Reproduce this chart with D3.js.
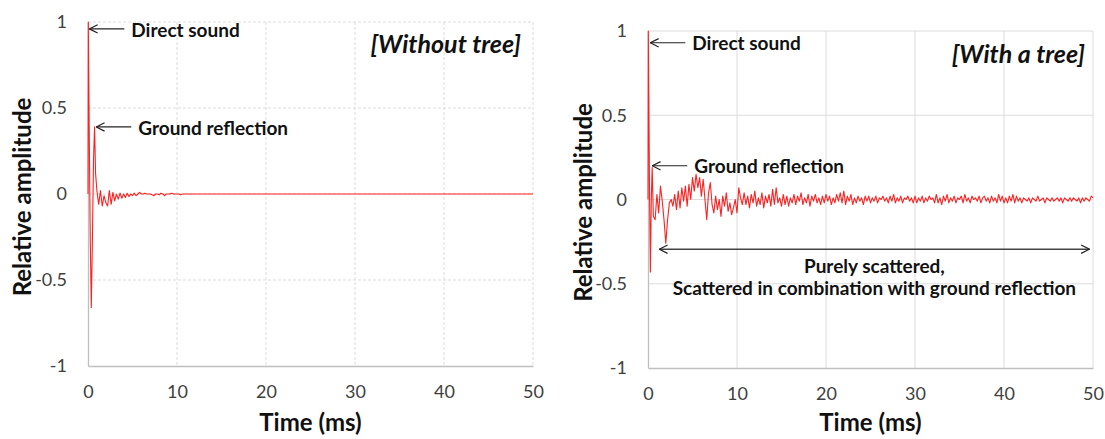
<!DOCTYPE html>
<html><head><meta charset="utf-8">
<script src="https://cdn.jsdelivr.net/npm/d3@7"></script>
<style>body{margin:0;background:#fff} svg{display:block}</style>
</head><body><svg id="c" width="1105" height="439"></svg>
<script>
// ---------- data ----------
const xTicks = [0, 10, 20, 30, 40, 50];
const yTicks = [-1, -0.5, 0, 0.5, 1];
const yTickLabels = ["-1", "-0.5", "0", "0.5", "1"];
const xTitle = "Time (ms)";
const yTitle = "Relative amplitude";
const panelTitles = ["[Without tree]", "[With a tree]"];

// Without tree: detailed early part (ms, amplitude)
const noTreeEarlyTimes = [0, 0.03, 0.08, 0.15, 0.25, 0.37, 0.5, 0.62, 0.74, 0.85];
const noTreeEarlyAmps  = [0, 1.0, 0.7, 0.3, -0.25, -0.66, -0.25, 0.2, 0.39, 0.12];
// Without tree: tail sampled every 0.2 ms from 1.0 ms
const noTreeTailStart = 1.0, noTreeTailStep = 0.2;
const noTreeTailAmps = [0.02,-0.06,0.02,-0.07,-0.01,-0.05,-0.07,0.02,-0.06,0.01,-0.04,0.0,-0.03,0.005,-0.025,0.0,-0.02,0.005,-0.015,0.0,-0.01,0.005,-0.01,0.0,0.01,0.0,
  0,0.005,0,0,0,-0.005,-0.01,0,0,-0.005,0.005,0,-0.01,0,0,0,0.005,0,0,0,0,-0.005,0,0,0];
const noTreeEndTime = 50, noTreeEndAmp = 0;

// With a tree: detailed early part
const treeEarlyTimes = [0, 0.03, 0.1, 0.18, 0.27, 0.37, 0.47];
const treeEarlyAmps  = [0, 1.0, 0.55, 0.0, -0.43, 0.0, 0.19];
// With a tree: tail sampled every 0.2 ms from 0.6 ms to 50 ms
const treeTailStart = 0.6, treeTailStep = 0.2;
const treeTailAmps = [
  -0.10,-0.12,0.03,-0.08,0.08,-0.01,-0.12,-0.26,-0.12,-0.02,0.00,-0.04,0.03,-0.06,0.05,-0.05,0.07,-0.01,0.08,-0.04,0.09,0.00,0.13,0.05,0.15,0.07,0.13,0.02,0.12,0.00,-0.12,0.04,0.10,-0.03,-0.08,0.02,-0.06,0.00,-0.10,0.02,-0.04,0.04,-0.07,-0.02,-0.09,-0.05,0.00,-0.08,0.07,0.01,-0.03,
  0.04,-0.03,0.02,-0.05,0.03,-0.02,0.05,-0.04,0.01,-0.03,0.04,-0.05,0.02,-0.02,0.03,-0.04,0.06,-0.03,0.07,-0.02,0.01,-0.04,
  0.03,-0.03,0.02,-0.04,0.01,-0.02,0.03,-0.03,0.02,-0.01,0.04,-0.03,0.01,-0.02,0.03,-0.04,0.02,-0.01,0.03,-0.02,0.01,-0.03,0.02,-0.02,0.03,
  -0.01,0.02,-0.03,0.01,-0.02,0.03,-0.01,0.04,-0.02,0.05,-0.03,0.02,-0.01,0.03,-0.03,0.01,-0.02,0.02,-0.01,0.01,-0.03,0.02,-0.01,0.02,-0.02,
  0.01,-0.01,0.02,-0.02,0.01,0.0,0.02,-0.01,0.01,-0.02,0.02,-0.01,0.03,-0.02,0.01,-0.01,0.02,-0.02,0.01,0.0,0.02,-0.01,0.01,-0.02,0.02,
  -0.02,0.01,-0.01,0.02,-0.02,0.01,-0.01,0.02,0.0,0.01,-0.02,0.03,-0.02,0.01,-0.03,0.02,-0.01,0.03,-0.02,0.01,-0.01,0.02,-0.02,0.01,0.0,
  0.02,-0.02,0.03,-0.01,0.01,-0.02,0.02,0.0,0.01,-0.01,0.02,-0.02,0.01,0.02,-0.01,0.01,-0.02,0.02,-0.01,0.01,-0.02,0.03,-0.01,0.02,-0.02,
  0.01,-0.02,0.02,-0.01,0.03,-0.02,0.02,-0.01,0.01,-0.02,0.01,0.0,-0.01,0.01,-0.02,0.01,0.0,-0.01,0.02,-0.01,0.0,0.01,-0.02,0.01,0.0,
  -0.01,0.01,-0.01,0.0,0.01,-0.01,0.01,-0.02,0.01,0.0,-0.01,0.01,-0.01,0.01,0.0,-0.01,0.01,-0.02,0.01,-0.01,0.01,0.0,-0.01,0.02,0.01];

// Annotations (data coordinates of arrow tips)
const noTreeNotes = [
  {label: "Direct sound", t: 0.15, a: 0.96},
  {label: "Ground reflection", t: 0.93, a: 0.39}
];
const treeNotes = [
  {label: "Direct sound", t: 0.26, a: 0.93},
  {label: "Ground reflection", t: 0.48, a: 0.20}
];
const scatterSpan = {t0: 1.27, t1: 49.6, a: -0.295};
const scatterLines = ["Purely scattered,", "Scattered in combination with ground reflection"];

// ---------- build series ----------
function buildSeries(et, ea, start, step, tail, extra) {
  const pts = et.map((t, i) => [t, ea[i]]);
  tail.forEach((v, i) => pts.push([start + i * step, v]));
  if (extra) pts.push(extra);
  return pts;
}
const noTreeSeries = buildSeries(noTreeEarlyTimes, noTreeEarlyAmps, noTreeTailStart, noTreeTailStep, noTreeTailAmps, [noTreeEndTime, noTreeEndAmp]);
const treeSeries = buildSeries(treeEarlyTimes, treeEarlyAmps, treeTailStart, treeTailStep, treeTailAmps, null);

// ---------- drawing ----------
const svg = d3.select("#c");
const FONT = "Lato, 'Open Sans', sans-serif";
svg.append("defs").append("marker")
  .attr("id", "arr").attr("viewBox", "0 0 10 10").attr("refX", 9.3).attr("refY", 5)
  .attr("markerWidth", 10).attr("markerHeight", 10).attr("markerUnits", "userSpaceOnUse")
  .attr("orient", "auto-start-reverse")
  .append("path").attr("d", "M1,0.8 L9.3,5 L1,9.2").attr("fill", "none").attr("stroke", "#222").attr("stroke-width", 1.2);

function panel(cfg) {
  const x = d3.scaleLinear().domain([0, 50]).range(cfg.xr);
  const y = d3.scaleLinear().domain([-1, 1]).range(cfg.yr);
  const g = svg.append("g");

  // grid
  g.append("g").selectAll("line").data(xTicks.filter(d => d > 0)).join("line")
    .attr("x1", d => x(d)).attr("x2", d => x(d)).attr("y1", y(1)).attr("y2", y(-1))
    .attr("stroke", "#dcdcdc").attr("stroke-width", 1).attr("stroke-dasharray", cfg.dash);
  g.append("g").selectAll("line").data(yTicks.filter(d => d > -1)).join("line")
    .attr("x1", x(0)).attr("x2", x(50)).attr("y1", d => y(d)).attr("y2", d => y(d))
    .attr("stroke", "#dcdcdc").attr("stroke-width", 1).attr("stroke-dasharray", cfg.dash);

  // axes
  const xa = g.append("g").attr("transform", `translate(0,${y(-1)})`)
    .call(d3.axisBottom(x).tickValues(xTicks).tickSize(0).tickPadding(19).tickFormat(d3.format("d")));
  const ya = g.append("g").attr("transform", `translate(${x(0)},0)`)
    .call(d3.axisLeft(y).tickValues(yTicks).tickSize(0).tickPadding(21).tickFormat((d, i) => yTickLabels[i]));
  [xa, ya].forEach(a => {
    a.select(".domain").attr("stroke", "#bfbfbf").attr("stroke-width", 1.3);
    a.selectAll("text").attr("font-family", FONT).attr("font-size", 18).attr("fill", "#404040");
  });

  // series
  g.append("path").datum(cfg.series)
    .attr("d", d3.line().x(d => x(d[0])).y(d => y(d[1])))
    .attr("fill", "none").attr("stroke", "#ff2020").attr("stroke-width", 1.1).attr("stroke-linejoin", "round");

  // titles
  g.append("text").attr("x", (cfg.xr[0] + cfg.xr[1]) / 2).attr("y", 431)
    .attr("text-anchor", "middle").attr("font-family", FONT).attr("font-weight", "bold")
    .attr("font-size", 24).attr("fill", "#111").text(xTitle);
  g.append("text").attr("transform", `translate(${cfg.ytx},${(cfg.yr[0] + cfg.yr[1]) / 2 + 3}) rotate(-90)`)
    .attr("text-anchor", "middle").attr("dy", "0.35em").attr("font-family", FONT).attr("font-weight", "bold")
    .attr("font-size", 24).attr("fill", "#111").text(yTitle);
  g.append("text").attr("x", cfg.titleX).attr("y", cfg.titleY)
    .attr("text-anchor", "end").attr("font-family", FONT).attr("font-weight", "bold").attr("font-style", "italic")
    .attr("font-size", 25).attr("fill", "#111").text(cfg.title);

  // annotations
  cfg.notes.forEach(n => {
    const tx = x(n.t), ty = y(n.a);
    g.append("line").attr("x1", tx + 35).attr("x2", tx).attr("y1", ty).attr("y2", ty)
      .attr("stroke", "#222").attr("stroke-width", 1.1).attr("marker-end", "url(#arr)");
    g.append("text").attr("x", tx + 42).attr("y", ty + 1).attr("dy", "0.35em")
      .attr("font-family", FONT).attr("font-weight", "bold").attr("font-size", 19).attr("fill", "#111").text(n.label);
  });
  if (cfg.span) {
    const s = cfg.span;
    g.append("line").attr("x1", x(s.t0)).attr("x2", x(s.t1)).attr("y1", y(s.a)).attr("y2", y(s.a))
      .attr("stroke", "#444").attr("stroke-width", 1.6)
      .attr("marker-start", "url(#arr)").attr("marker-end", "url(#arr)");
    const cx = (x(s.t0) + x(s.t1)) / 2;
    cfg.spanLines.forEach((l, i) => {
      g.append("text").attr("x", cx).attr("y", y(s.a) + 17 + i * 22).attr("dy", "0.35em")
        .attr("text-anchor", "middle").attr("font-family", FONT).attr("font-weight", "bold")
        .attr("font-size", 19).attr("fill", "#111").text(l);
    });
  }
}

panel({xr: [88, 533], yr: [366, 22], series: noTreeSeries, notes: noTreeNotes, title: panelTitles[0],
  titleX: 521, titleY: 53, ytx: 23, dash: "3,2"});
panel({xr: [648, 1093], yr: [368, 31], series: treeSeries, notes: treeNotes, title: panelTitles[1],
  titleX: 1085, titleY: 63, ytx: 584, dash: null, span: scatterSpan, spanLines: scatterLines});
</script></body></html>
